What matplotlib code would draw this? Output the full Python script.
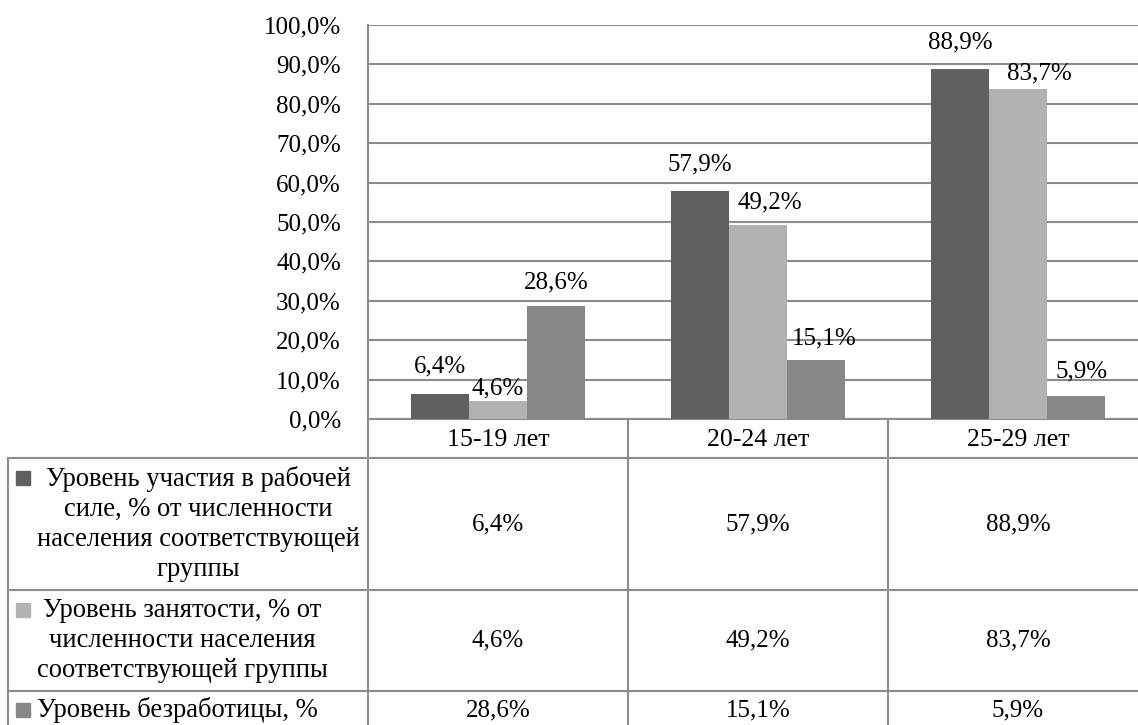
import matplotlib.pyplot as plt
import numpy as np

plt.rcParams['font.family'] = ['Liberation Serif', 'DejaVu Serif']
plt.rcParams['font.size'] = 18

# data
categories = ['15-19 лет', '20-24 лет', '25-29 лет']
series_names = [
    'Уровень участия в рабочей\nсиле, % от численности\nнаселения соответствующей\nгруппы',
    'Уровень занятости, % от\nчисленности населения\nсоответствующей группы',
    'Уровень безработицы, %',
]
participation = [6.4, 57.9, 88.9]
employment = [4.6, 49.2, 83.7]
unemployment = [28.6, 15.1, 5.9]
y_ticks = [0, 10, 20, 30, 40, 50, 60, 70, 80, 90, 100]

series = [participation, employment, unemployment]
colors = ['#606060', '#b2b2b2', '#888888']
grid_color = '#8c8c8c'


def pct(v):
    return f'{v:.1f}%'.replace('.', ',')


# label nudges (pixels) where Excel moved labels to avoid overlap
nudges = [
    [(0, 27), (0, 26), (0, 26)],
    [(0, 12), (12, 23), (21, 16)],
    [(0, 24), (8, 21), (6, 24)],
]

W, H = 1138, 725
fig = plt.figure(figsize=(W / 100, H / 100), dpi=100)

# plot area in picture pixels (right edge runs past the cropped picture)
left, right, top, bottom = 368, 1148, 25, 419
ax = fig.add_axes([left / W, 1 - bottom / H, (right - left) / W, (bottom - top) / H])

x = np.arange(len(categories))
bw = 0.223
for i, (vals, col) in enumerate(zip(series, colors)):
    xs = x + (i - 1) * bw
    ax.bar(xs, vals, width=bw, color=col, zorder=3)
    for j, (xi, v) in enumerate(zip(xs, vals)):
        ax.annotate(pct(v), (xi, v), xytext=nudges[i][j], textcoords='offset pixels',
                    ha='center', va='center', zorder=4)

ax.set_xlim(-0.5, len(categories) - 0.5)
ax.set_ylim(0, 100)
ax.set_yticks(y_ticks)
ax.set_yticklabels([pct(t) for t in y_ticks])
ax.set_xticks([])
ax.tick_params(axis='y', length=0, pad=19.5)
ax.set_axisbelow(True)
ax.yaxis.grid(True, color=grid_color, linewidth=1.5)
for s in ['top', 'right']:
    ax.spines[s].set_visible(False)
for s in ['left', 'bottom']:
    ax.spines[s].set_color(grid_color)
    ax.spines[s].set_linewidth(1.5)

# data table under the chart, drawn in picture pixel coordinates
tax = fig.add_axes([0, 0, 1, (H - bottom) / H])
tax.set_xlim(0, W)
tax.set_ylim(H, bottom)
tax.axis('off')

col_edges = ax.transData.transform([(e, 0) for e in np.arange(len(categories) + 1) - 0.5])[:, 0]
col_centers = (col_edges[:-1] + col_edges[1:]) / 2
row_edges = [bottom, 458, 590, 691, 729]
table_left = 8
lw = 1.5

for yy in row_edges[1:]:
    tax.plot([table_left, col_edges[-1]], [yy, yy], color=grid_color, lw=lw, clip_on=False)
for xx in col_edges:
    tax.plot([xx, xx], [row_edges[0], row_edges[-1]], color=grid_color, lw=lw, clip_on=False)
tax.plot([table_left, table_left], [row_edges[1], row_edges[-1]], color=grid_color, lw=lw,
         clip_on=False)

for c, cx in zip(categories, col_centers):
    tax.text(cx, (row_edges[0] + row_edges[1]) / 2 + 2, c, ha='center', va='center',
             fontsize=18.6)

line_pitch = 30.7
for r, (name, vals, col) in enumerate(zip(series_names, series, colors)):
    cy = (row_edges[r + 1] + row_edges[r + 2]) / 2
    if r == len(series) - 1:
        cy = 710
    n = name.count('\n') + 1
    tax.text(37, cy, name, ha='left', va='center', multialignment='center', linespacing=1.27,
             fontsize=19.2)
    tax.plot([23], [cy - (n - 1) / 2 * line_pitch], marker='s', ms=9.4, color=col, mec=col)
    for cx, v in zip(col_centers, vals):
        tax.text(cx, cy, pct(v), ha='center', va='center')

fig.savefig('out.png', dpi=100)
